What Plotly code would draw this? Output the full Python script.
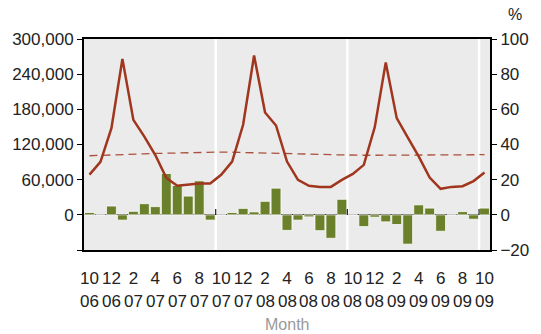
import plotly.graph_objects as go

# Monthly categories Oct 2006 .. Oct 2009
months = [f"{m:02d}/{y:02d}" for y, m in
          [(6, 10), (6, 11), (6, 12)] + [(7, m) for m in range(1, 13)] +
          [(8, m) for m in range(1, 13)] + [(9, m) for m in range(1, 11)]]

# Bars (left axis)
bar_values = [4000, 0, 15000, -9000, 6000, 19000, 14000, 70500, 50000, 32000, 58000, -9000,
              0, 4000, 11000, 5000, 23000, 45500, -26500, -9000, -3500, -27000, -40000, 26500,
              0, -20000, -4000, -12000, -16500, -50000, 17000, 11500, -28000, 0, 5500, -7500, 11500]

# Solid line (right axis, %)
line_values = [22.9, 30.1, 49.3, 88.7, 54.0, 44.5, 34.0, 21.0, 16.5, 17.3, 17.8, 17.8,
               22.8, 30.3, 51.2, 90.6, 58.2, 50.8, 30.3, 19.9, 16.5, 15.9, 15.9, 19.9,
               23.3, 28.4, 49.9, 86.7, 55.0, 44.0, 33.2, 21.2, 14.8, 15.9, 16.3, 19.2, 24.1]

# Dashed line (right axis, %)
dash_values = [33.6, 33.9, 34.1, 34.3, 34.5, 34.7, 34.9, 35.1, 35.3, 35.5, 35.6, 35.7,
               35.7, 35.6, 35.5, 35.4, 35.3, 35.2, 35.0, 34.8, 34.6, 34.4, 34.2, 34.0,
               33.9, 33.9, 33.9, 33.9, 33.9, 33.9, 33.9, 34.0, 34.0, 34.0, 34.1, 34.1, 34.2]

tick_months = ["10", "12", "2", "4", "6", "8", "10", "12", "2", "4", "6", "8", "10", "12", "2", "4", "6", "8", "10"]
tick_years = ["06", "06", "07", "07", "07", "07", "07", "07", "08", "08", "08", "08", "08", "08", "09", "09", "09", "09", "09"]
left_ticks = [-60000, 0, 60000, 120000, 180000, 240000, 300000]
left_ticktext = ["", "0", "60,000", "120,000", "180,000", "240,000", "300,000"]
year_breaks = [11.5, 23.5, 35.5]

FONT = "Liberation Sans, Arial, sans-serif"
TXT = "#222222"
RED = "#A0361E"
GREEN = "#6B802A"

fig = go.Figure()
fig.add_trace(go.Bar(x=months, y=bar_values, marker=dict(color=GREEN, line=dict(color="rgba(255,255,255,0.75)", width=1)),
                     yaxis="y", showlegend=False))
fig.add_trace(go.Scatter(x=months, y=dash_values, mode="lines", yaxis="y2",
                         line=dict(color=RED, width=1.3, dash="8px,5px"), opacity=0.85, showlegend=False))
fig.add_trace(go.Scatter(x=months, y=line_values, mode="lines", yaxis="y2",
                         line=dict(color=RED, width=2.5), showlegend=False))

shapes = []
for b in year_breaks:
    shapes.append(dict(type="line", xref="x", yref="paper", x0=b, x1=b, y0=0, y1=1,
                       line=dict(color="white", width=2.5), layer="below"))
    shapes.append(dict(type="line", xref="x", yref="y", x0=b, x1=b, y0=0, y1=10000,
                       line=dict(color="#222", width=1.2), layer="above"))

annotations = []
tick_pos = months[::2]
for xv, yr in zip(tick_pos, tick_years):
    annotations.append(dict(x=xv, y=0, xref="x", yref="paper", yanchor="top", yshift=-40,
                            text=yr, showarrow=False, font=dict(family=FONT, size=17, color=TXT)))
annotations.append(dict(x=0.5, y=0, xref="paper", yref="paper", yanchor="top", yshift=-64,
                        text="Month", showarrow=False, font=dict(family=FONT, size=16, color="#999999")))
annotations.append(dict(x=1, y=1, xref="paper", yref="paper", xanchor="left", yanchor="bottom",
                        xshift=16, yshift=14, text="%", showarrow=False,
                        font=dict(family=FONT, size=16, color=TXT)))

fig.update_layout(
    width=541, height=334,
    margin=dict(l=82, r=45, t=39, b=84),
    paper_bgcolor="white", plot_bgcolor="#EBEBEB",
    bargap=0.1,
    font=dict(family=FONT, size=17, color=TXT),
    xaxis=dict(type="category", range=[-0.5, 36.5], tickmode="array", tickvals=tick_pos,
               ticktext=tick_months, ticks="", showgrid=False, showline=True, linecolor="black",
               linewidth=2, mirror=True, tickfont=dict(family=FONT, size=17, color=TXT), ticklabelstandoff=12),
    yaxis=dict(range=[-60000, 300000], tickmode="array", tickvals=left_ticks, ticktext=left_ticktext,
               ticks="outside", ticklen=5, tickwidth=1.2, tickcolor="black", showgrid=False,
               showline=True, linecolor="black", linewidth=2, zeroline=True, zerolinecolor="#222",
               zerolinewidth=1.2, tickfont=dict(family=FONT, size=17, color=TXT)),
    yaxis2=dict(range=[-20, 100], tickmode="array", tickvals=[-20, 0, 20, 40, 60, 80, 100],
                overlaying="y", side="right", ticks="outside", ticklen=5, tickwidth=1.2,
                tickcolor="black", showgrid=False, zeroline=False, showline=True, linecolor="black",
                linewidth=2, tickfont=dict(family=FONT, size=17, color=TXT)),
    shapes=shapes, annotations=annotations,
)

fig.write_html("out.html", config={"displayModeBar": False},
               post_script="document.body.style.margin='0';document.body.style.overflow='hidden';")
